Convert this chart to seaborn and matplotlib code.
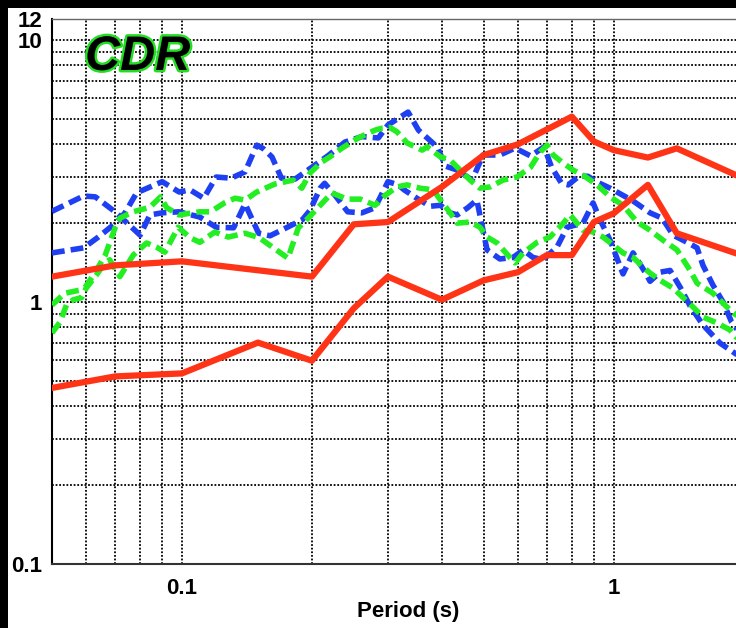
import numpy as np
import pandas as pd
import matplotlib
matplotlib.use("Agg")
import matplotlib.pyplot as plt
import matplotlib.ticker as mticker
import matplotlib.patheffects as pe
from matplotlib.patches import Rectangle
import seaborn as sns

sns.set_style("white")
plt.rcParams['font.family'] = ['Liberation Sans Narrow', 'Liberation Sans', 'DejaVu Sans']
plt.rcParams['text.color'] = 'black'
plt.rcParams['axes.labelcolor'] = 'black'
plt.rcParams['xtick.color'] = 'black'
plt.rcParams['ytick.color'] = 'black'

# Response spectra (period in s, spectral value)
red_hi_T = [0.05, 0.07, 0.1, 0.2, 0.25, 0.3, 0.4, 0.5, 0.6, 0.8, 0.9, 1.0, 1.2, 1.4, 2.0]
red_hi_SA = [1.25, 1.38, 1.43, 1.25, 1.98, 2.02, 2.75, 3.64, 4.0, 5.1, 4.1, 3.8, 3.56, 3.86, 2.96]

red_lo_T = [0.05, 0.07, 0.1, 0.15, 0.2, 0.25, 0.3, 0.4, 0.5, 0.6, 0.7, 0.8, 0.9, 1.0, 1.2, 1.4, 2.0]
red_lo_SA = [0.47, 0.52, 0.534, 0.70, 0.597, 0.946, 1.25, 1.02, 1.21, 1.30, 1.51, 1.51, 2.02, 2.18,
             2.80, 1.83, 1.50]

blue_1_T = [0.05, 0.0592, 0.063, 0.070, 0.080, 0.0843, 0.090, 0.0985, 0.110, 0.120, 0.1317, 0.140,
            0.1505, 0.160, 0.170, 0.180, 0.190, 0.198, 0.209, 0.214, 0.226, 0.242, 0.261, 0.280,
            0.300, 0.317, 0.327, 0.350, 0.3755, 0.397, 0.418, 0.434, 0.459, 0.482, 0.498, 0.509,
            0.545, 0.585, 0.617, 0.650, 0.686, 0.739, 0.780, 0.849, 0.896, 0.930, 0.981, 1.051,
            1.109, 1.182, 1.214, 1.281, 1.351, 1.425, 1.503, 1.61, 1.763, 1.921, 2.0]
blue_1_SA = [2.22, 2.54, 2.52, 2.21, 1.80, 2.15, 2.19, 2.21, 2.11, 1.93, 1.92, 2.37,
             1.83, 1.79, 1.88, 1.97, 2.06, 2.24, 2.72, 2.84, 2.56, 2.21, 2.19, 2.29,
             2.88, 2.80, 2.68, 2.49, 2.32, 2.34, 2.19, 2.15, 2.29, 2.45, 1.88, 1.58,
             1.46, 1.48, 1.58, 1.48, 1.45, 1.62, 1.93, 2.00, 2.39, 2.06, 1.72, 1.28,
             1.54, 1.30, 1.20, 1.30, 1.32, 1.14, 0.966, 0.817, 0.697, 0.633, 0.61]

blue_2_T = [0.05, 0.0592, 0.064, 0.0707, 0.0738, 0.0785, 0.090, 0.0985, 0.1044, 0.1123, 0.120,
            0.130, 0.140, 0.149, 0.154, 0.1616, 0.170, 0.183, 0.200, 0.218, 0.2385, 0.261, 0.285,
            0.300, 0.334, 0.353, 0.390, 0.408, 0.434, 0.47, 0.498, 0.545, 0.591, 0.642, 0.690,
            0.718, 0.757, 0.785, 0.830, 0.872, 0.915, 0.981, 1.109, 1.214, 1.295, 1.373, 1.479,
            1.56, 1.61, 1.698, 1.792, 1.875, 1.921, 2.0]
blue_2_SA = [1.54, 1.61, 1.77, 2.02, 2.19, 2.61, 2.88, 2.63, 2.68, 2.49, 3.00,
             2.97, 3.14, 3.97, 3.86, 3.58, 2.97, 2.95, 3.27, 3.62, 4.08, 4.28, 4.23,
             4.74, 5.31, 4.53, 3.91, 3.30, 3.19, 2.92, 3.64, 3.64, 3.87, 3.61, 3.91,
             3.27, 2.84, 2.80, 3.02, 3.02, 2.87, 2.72, 2.43, 2.19, 2.09, 1.80, 1.69,
             1.61, 1.38, 1.16, 1.00, 0.839, 0.796, 0.72]

green_1_T = [0.05, 0.0535, 0.058, 0.0597, 0.063, 0.0664, 0.070, 0.0718, 0.0771, 0.0843, 0.0892,
             0.0922, 0.0985, 0.110, 0.1164, 0.1255, 0.1327, 0.140, 0.149, 0.164, 0.181, 0.1895,
             0.198, 0.2105, 0.220, 0.235, 0.256, 0.280, 0.291, 0.303, 0.315, 0.332, 0.360, 0.370,
             0.397, 0.418, 0.441, 0.465, 0.490, 0.517, 0.554, 0.597, 0.642, 0.676, 0.701, 0.724,
             0.764, 0.805, 0.849, 0.915, 0.981, 1.051, 1.133, 1.214, 1.302, 1.402, 1.503, 1.56,
             1.698, 1.860, 1.921, 2.0]
green_1_SA = [0.974, 1.08, 1.11, 1.14, 1.30, 1.51, 1.92, 2.09, 2.21, 2.30, 2.52,
              2.29, 2.15, 2.21, 2.21, 2.39, 2.49, 2.45, 2.63, 2.82, 2.92, 2.72,
              3.11, 3.42, 3.58, 3.87, 4.23, 4.53, 4.61, 4.64, 4.46, 4.05, 3.80, 3.91,
              3.58, 3.48, 3.19, 2.92, 2.72, 2.75, 2.92, 3.00, 3.27, 3.74, 3.97, 3.64,
              3.39, 3.19, 3.05, 2.80, 2.52, 2.34, 2.02, 1.88, 1.72, 1.58, 1.32, 1.18,
              1.08, 0.932, 0.892, 0.85]

green_2_T = [0.05, 0.0522, 0.054, 0.056, 0.0586, 0.060, 0.0634, 0.0657, 0.068, 0.0718, 0.0771,
             0.0828, 0.0873, 0.0913, 0.098, 0.1044, 0.110, 0.1192, 0.1279, 0.140, 0.151, 0.162,
             0.176, 0.186, 0.196, 0.207, 0.2225, 0.241, 0.259, 0.280, 0.296, 0.315, 0.332, 0.356,
             0.382, 0.397, 0.418, 0.434, 0.465, 0.490, 0.509, 0.537, 0.575, 0.591, 0.617, 0.665,
             0.712, 0.764, 0.793, 0.822, 0.849, 0.896, 0.945, 0.997, 1.051, 1.109, 1.170, 1.214,
             1.281, 1.373, 1.448, 1.527, 1.61, 1.735, 1.860, 1.921, 2.0]
green_2_SA = [0.762, 0.839, 0.974, 1.02, 1.04, 1.13, 1.27, 1.38, 1.45, 1.25, 1.51,
              1.68, 1.62, 1.55, 1.93, 1.76, 1.69, 1.85, 1.77, 1.83, 1.76, 1.62,
              1.47, 1.92, 2.09, 2.30, 2.61, 2.47, 2.47, 2.34, 2.56, 2.75, 2.80, 2.72,
              2.68, 2.45, 2.19, 2.00, 2.02, 1.93, 1.77, 1.68, 1.48, 1.41, 1.54, 1.69,
              1.77, 2.00, 2.15, 2.00, 1.88, 1.85, 1.77, 1.65, 1.54, 1.48, 1.36, 1.29,
              1.21, 1.13, 1.04, 0.957, 0.876, 0.832, 0.782, 0.735, 0.71]

x_ticks = [0.1, 1]
x_tick_labels = ['0.1', '1']
y_ticks = [0.1, 1, 10, 12]
y_tick_labels = ['0.1', '1', '10', '12']

BLUE = '#1f3ff2'
GREEN = '#22ee22'
RED = '#ff3316'
DASH = (0, (2.3, 1.1))

fig = plt.figure(figsize=(7.36, 6.28), dpi=100)
fig.patch.set_facecolor('white')
ax = fig.add_axes([52 / 736, 64 / 628, 684 / 736, 544.7 / 628])

# dashed spectra first, solid red on top
lines = [
    (blue_1_T, blue_1_SA, BLUE, DASH, 4.0, 3),
    (blue_2_T, blue_2_SA, BLUE, DASH, 4.0, 3),
    (green_1_T, green_1_SA, GREEN, DASH, 4.0, 4),
    (green_2_T, green_2_SA, GREEN, DASH, 4.0, 4),
    (red_hi_T, red_hi_SA, RED, '-', 4.5, 5),
    (red_lo_T, red_lo_SA, RED, '-', 4.5, 5),
]
for T, SA, color, ls, lw, z in lines:
    df = pd.DataFrame({'Period': T, 'SA': SA})
    sns.lineplot(data=df, x='Period', y='SA', ax=ax, color=color, linestyle=ls,
                 linewidth=lw, estimator=None, sort=False, zorder=z)

ax.set_xscale('log')
ax.set_yscale('log')
ax.set_xlim(0.05, 1.92)
ax.set_ylim(0.1, 12)

ax.xaxis.set_major_locator(mticker.FixedLocator(x_ticks))
ax.xaxis.set_major_formatter(mticker.FixedFormatter(x_tick_labels))
ax.xaxis.set_minor_locator(mticker.LogLocator(base=10, subs=np.arange(2, 10)))
ax.xaxis.set_minor_formatter(mticker.NullFormatter())
ax.yaxis.set_major_locator(mticker.FixedLocator(y_ticks))
ax.yaxis.set_major_formatter(mticker.FixedFormatter(y_tick_labels))
ax.yaxis.set_minor_locator(mticker.LogLocator(base=10, subs=np.arange(2, 10)))
ax.yaxis.set_minor_formatter(mticker.NullFormatter())

ax.grid(which='both', color='black', linestyle=(0, (1, 1)), linewidth=1.3)
ax.set_axisbelow(True)

ax.tick_params(which='both', length=0)
ax.tick_params(axis='y', labelsize=16, pad=7, labelcolor='black')
ax.tick_params(axis='x', labelsize=16, pad=10, labelcolor='black')
for lab in ax.get_xticklabels() + ax.get_yticklabels():
    lab.set_fontweight('bold')

ax.set_xlabel('Period (s)', fontsize=16, fontweight='bold', color='black')
ax.xaxis.set_label_coords((408 - 52) / 684, -0.068)
ax.set_ylabel('')

ax.spines['right'].set_visible(False)
ax.spines['top'].set_color('#666666')
ax.spines['top'].set_linewidth(1.0)
ax.spines['left'].set_color('black')
ax.spines['left'].set_linewidth(1.5)
ax.spines['bottom'].set_color('#333333')
ax.spines['bottom'].set_linewidth(1.5)

fig.text(85 / 736, 1 - 70 / 628, 'CDR', fontsize=35, fontstyle='italic', fontweight='bold',
         family=['Liberation Sans', 'DejaVu Sans'], color='black', va='baseline', ha='left',
         path_effects=[pe.withStroke(linewidth=3.5, foreground='#22dd22')], zorder=20)

# black frame strips on top and left edge
fig.add_artist(Rectangle((0, 0), 8 / 736, 1, transform=fig.transFigure,
                         facecolor='black', edgecolor='none', zorder=30))
fig.add_artist(Rectangle((0, 1 - 8 / 628), 1, 8 / 628, transform=fig.transFigure,
                         facecolor='black', edgecolor='none', zorder=30))

fig.savefig('out.png', dpi=100)
